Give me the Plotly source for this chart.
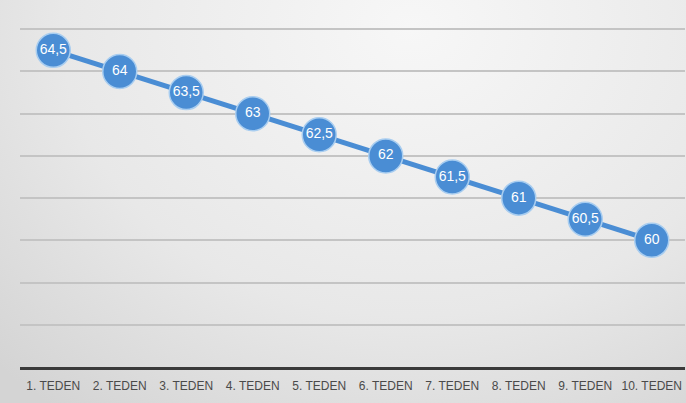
import plotly.graph_objects as go
import urllib.parse

weeks = ["1. TEDEN", "2. TEDEN", "3. TEDEN", "4. TEDEN", "5. TEDEN",
         "6. TEDEN", "7. TEDEN", "8. TEDEN", "9. TEDEN", "10. TEDEN"]
values = [64.5, 64, 63.5, 63, 62.5, 62, 61.5, 61, 60.5, 60]
labels = ["64,5", "64", "63,5", "63", "62,5", "62", "61,5", "61", "60,5", "60"]

svg = (
    "<svg xmlns='http://www.w3.org/2000/svg' width='686' height='403' viewBox='0 0 686 403' preserveAspectRatio='none'>"
    "<defs><radialGradient id='g' cx='0.6' cy='0.05' r='0.85' gradientTransform='scale(1,1.4)'>"
    "<stop offset='0' stop-color='#f7f7f7'/><stop offset='0.6' stop-color='#e8e8e8'/>"
    "<stop offset='1' stop-color='#d4d4d4'/></radialGradient></defs>"
    "<rect width='686' height='403' fill='url(#g)'/></svg>"
)
src = "data:image/svg+xml;charset=utf-8," + urllib.parse.quote(svg)

FONT = "Liberation Sans, Arial, sans-serif"

fig = go.Figure()
fig.add_trace(go.Scatter(
    x=weeks, y=values, mode="lines+markers+text",
    text=labels, textposition="middle center",
    textfont=dict(color="white", size=14, family=FONT),
    line=dict(color="#4a8dd4", width=5),
    marker=dict(size=34, color="#4a8dd4", line=dict(color="#a8cdf0", width=1.5)),
    cliponaxis=False, showlegend=False,
))

fig.update_layout(
    width=686, height=403,
    margin=dict(l=20, r=1, t=28, b=36, autoexpand=False),
    paper_bgcolor="#e4e4e4", plot_bgcolor="rgba(0,0,0,0)",
    images=[dict(source=src, xref="paper", yref="paper", x=-20/665, y=1 + 28/339,
                 sizex=686/665, sizey=403/339, sizing="stretch", layer="below",
                 xanchor="left", yanchor="top")],
    xaxis=dict(range=[-0.5, 9.5], showgrid=False, showline=True, linecolor="#3a3a3a", linewidth=3,
               ticks="", ticklabelstandoff=6, tickangle=0, automargin=False,
               tickfont=dict(size=12, color="#4a4a4a", family=FONT)),
    yaxis=dict(range=[57, 65.03], dtick=1, showticklabels=False, showgrid=True,
               gridcolor="#c4c4c4", gridwidth=2, zeroline=False, showline=False,
               automargin=False),
)

fig.write_html("out.html")
